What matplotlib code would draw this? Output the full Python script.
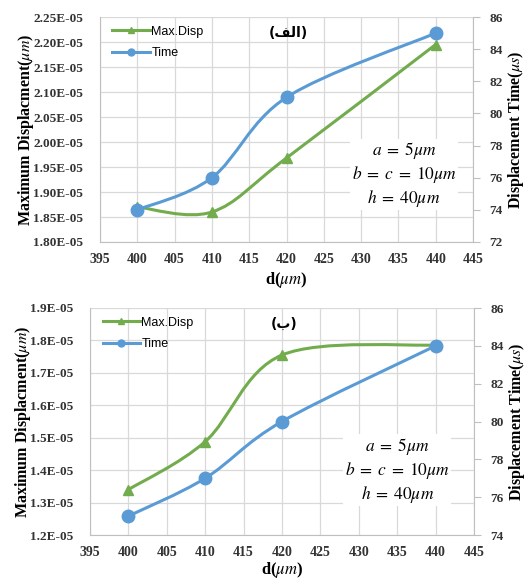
import matplotlib
matplotlib.use('Agg')
import matplotlib.pyplot as plt
import numpy as np
from matplotlib.path import Path
from matplotlib.patches import PathPatch
from matplotlib.lines import Line2D

# x positions (d, um)
d = [400, 410, 420, 440]

# panel (a) -- "الف"
disp_a = [1.87e-05, 1.86e-05, 1.968e-05, 2.195e-05]
time_a = [74, 76, 81, 85]

# panel (b) -- "ب"
disp_b = [1.34e-05, 1.488e-05, 1.755e-05, 1.786e-05]
time_b = [75, 77, 80, 84]

# Arabic panel tags, written in presentation forms (matplotlib does no shaping)
tag_a = '(\ufed2\ufedf\ufe8d)'
tag_b = '(\ufe8f)'

green = '#72AC4D'
blue = '#5B9BD5'
grid_c = '#D9D9D9'
axis_c = '#BFBFBF'

plt.rcParams['font.family'] = ['Liberation Serif', 'DejaVu Serif']
plt.rcParams['mathtext.fontset'] = 'stix'


def smooth_path(x, y):
    # excel-style smoothed line: cubic bezier with catmull-rom tangents
    p = np.column_stack([x, y]).astype(float)
    n = len(p)
    verts = [p[0]]
    codes = [Path.MOVETO]
    for i in range(n - 1):
        prev = p[i - 1] if i > 0 else p[i]
        nxt = p[i + 2] if i + 2 < n else p[i + 1]
        c1 = p[i] + (p[i + 1] - prev) / 6.0
        c2 = p[i + 1] - (nxt - p[i]) / 6.0
        verts += [c1, c2, p[i + 1]]
        codes += [Path.CURVE4] * 3
    return Path(verts, codes)


def panel(fig, rect, disp, time, ylim, yticks, ylabels, tlim, tticks, tag, txt_xy, xlpad):
    ax = fig.add_axes(rect)
    ax.set_xlim(395, 445)
    ax.set_xticks(range(395, 446, 5))
    ax.set_ylim(*ylim)
    ax.set_yticks(yticks)
    ax.set_yticklabels(ylabels)
    ax.grid(True, color=grid_c, lw=0.9)
    ax.set_axisbelow(True)
    for s in ['top', 'right']:
        ax.spines[s].set_visible(False)
    for s in ['left', 'bottom']:
        ax.spines[s].set_color(axis_c)
    ax.tick_params(axis='y', length=0, labelsize=9.5, pad=12)
    ax.tick_params(axis='x', length=0, labelsize=10, pad=8)
    for lab in ax.get_xticklabels() + ax.get_yticklabels():
        lab.set_fontweight('bold')
        lab.set_color('#333333')

    ax.add_patch(PathPatch(smooth_path(d, disp), fill=False, ec=green, lw=2.2, zorder=3))
    ax.plot(d, disp, ls='none', marker='^', ms=7, color=green, zorder=4)

    ax2 = ax.twinx()
    ax2.set_ylim(*tlim)
    ax2.set_yticks(tticks)
    for s in ['top', 'left', 'bottom']:
        ax2.spines[s].set_visible(False)
    ax2.spines['right'].set_color(axis_c)
    ax2.tick_params(length=5, color=axis_c, labelsize=9.5, pad=7)
    for lab in ax2.get_yticklabels():
        lab.set_fontweight('bold')
        lab.set_color('#333333')
    ax2.add_patch(PathPatch(smooth_path(d, time), fill=False, ec=blue, lw=2.2, zorder=3))
    ax2.plot(d, time, ls='none', marker='o', ms=9, color=blue, zorder=4)

    ax.set_ylabel('Maximum Displacment($\\mu m$)', fontsize=11.5, fontweight='bold', labelpad=-2)
    ax2.set_ylabel('Displacement Time($\\mu s$)', fontsize=11.5, fontweight='bold', labelpad=2)
    ax.set_xlabel('d($\\mu m$)', fontsize=12, fontweight='bold', labelpad=xlpad)

    handles = [Line2D([], [], color=green, lw=2.2, marker='^', ms=5),
               Line2D([], [], color=blue, lw=2.2, marker='o', ms=5)]
    ax2.legend(handles, ['Max.Disp', 'Time'], loc='upper left', frameon=False,
               prop={'family': 'Liberation Sans', 'size': 9}, handlelength=3.0,
               handletextpad=0.1, labelspacing=0.75, borderaxespad=0.3,
               bbox_to_anchor=(0.01, 1.0))

    ax2.text(0.505, 0.93, tag, transform=ax.transAxes, ha='center', va='center',
             fontsize=10, fontweight='bold', family='DejaVu Sans')
    ax2.text(txt_xy[0], txt_xy[1],
             '$a\\;=\\;5\\mu m$\n$b\\;=\\;c\\;=\\;10\\mu m$\n$h\\;=\\;40\\mu m$',
             transform=ax.transAxes, ha='center', va='center', multialignment='center',
             fontsize=12.5, linespacing=1.2,
             bbox=dict(fc='white', ec='none', pad=1), zorder=5)
    return ax, ax2


fig = plt.figure(figsize=(5.27, 5.80), dpi=100)

panel(fig, [100 / 527, 1 - 242 / 580, 373 / 527, 225 / 580], disp_a, time_a,
      (1.80e-05, 2.25e-05), np.arange(1.80e-05, 2.2501e-05, 0.05e-05),
      ['%.2fE-05' % v for v in np.arange(1.80, 2.2501, 0.05)],
      (72, 86), range(72, 87, 2), tag_a, (0.815, 0.30), 3)

panel(fig, [90 / 527, 1 - 535 / 580, 384 / 527, 227 / 580], disp_b, time_b,
      (1.2e-05, 1.9e-05), np.arange(1.2e-05, 1.9001e-05, 0.1e-05),
      ['%.1fE-05' % v for v in np.arange(1.2, 1.9001, 0.1)],
      (74, 86), range(74, 87, 2), tag_b, (0.80, 0.285), 0.5)

fig.savefig('out.png', dpi=100)
